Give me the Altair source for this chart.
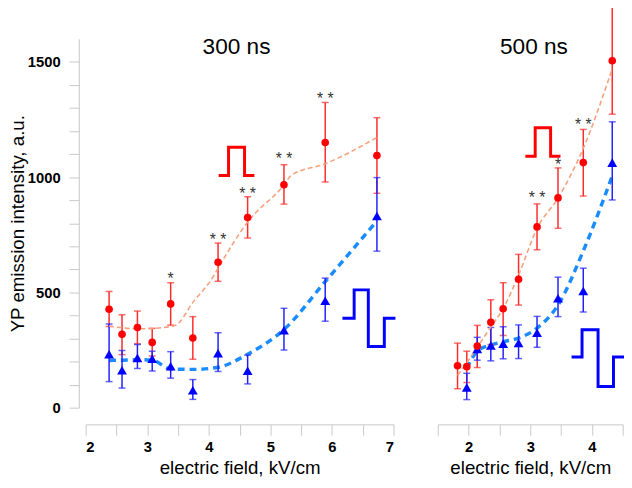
import altair as alt
import pandas as pd

# ---------------- 300 ns panel ----------------
field_300 = [2.38, 2.59, 2.84, 3.08, 3.38, 3.74, 4.15, 4.63, 5.22, 5.89, 6.73]
red_300 = [427, 318, 348, 283, 450, 302, 631, 825, 967, 1150, 1094]
red_300_hi = [504, 403, 419, 344, 542, 395, 714, 915, 1054, 1324, 1258]
red_300_lo = [352, 230, 277, 224, 358, 210, 548, 736, 883, 979, 930]
blue_300 = [232, 162, 216, 212, 180, 76, 236, 160, 336, 464, 831]
blue_300_hi = [363, 248, 274, 245, 243, 122, 325, 228, 431, 562, 998]
blue_300_lo = [113, 85, 170, 159, 128, 36, 157, 103, 250, 375, 679]

fit_red_300_x = [2.38, 2.6, 2.85, 3.1, 3.45, 3.75, 4.07, 4.15, 4.63, 5.22, 5.34, 5.89, 6.73]
fit_red_300_y = [354, 346, 342, 344, 356, 460, 568, 605, 805, 966, 1008, 1058, 1172]
fit_blue_300_x = [2.38, 2.6, 2.84, 3.08, 3.38, 3.74, 4.15, 4.63, 5.22, 5.89, 6.73]
fit_blue_300_y = [205, 206, 208, 206, 168, 166, 175, 232, 339, 547, 810]

star_300_x = [3.38, 4.15, 4.63, 5.22, 5.89]
star_300_y = [575, 746, 942, 1095, 1355]
star_300_t = ["*", "* *", "* *", "* *", "* *"]

# ---------------- 500 ns panel ----------------
field_500_red = [1.82, 1.97, 2.14, 2.36, 2.56, 2.81, 3.11, 3.45, 3.86, 4.33]
red_500 = [182, 178, 267, 370, 429, 557, 784, 910, 1063, 1505]
red_500_hi = [280, 245, 357, 468, 542, 665, 884, 1040, 1207, 1738]
red_500_lo = [82, 109, 174, 274, 313, 445, 685, 778, 918, 1273]
field_500_blue = [1.97, 2.14, 2.36, 2.56, 2.81, 3.11, 3.45, 3.86, 4.33]
blue_500 = [88, 255, 270, 277, 281, 325, 475, 506, 1063]
blue_500_hi = [149, 305, 348, 351, 359, 396, 566, 605, 1240]
blue_500_lo = [35, 206, 203, 212, 213, 262, 395, 415, 901]

fit_red_500_x = [1.82, 1.97, 2.14, 2.36, 2.56, 2.81, 3.11, 3.45, 3.86, 4.33]
fit_red_500_y = [140, 195, 262, 350, 430, 575, 778, 909, 1125, 1470]
fit_blue_500_x = [1.97, 2.14, 2.36, 2.56, 2.81, 3.11, 3.45, 3.86, 4.33]
fit_blue_500_y = [170, 245, 272, 286, 302, 345, 445, 680, 1005]

star_500_x = [3.11, 3.45, 3.86]
star_500_y = [928, 1069, 1242]
star_500_t = ["* *", "*", "* *"]

# ---------------- pulse icons ----------------
red_pulse_300_x = [4.16, 4.32, 4.32, 4.58, 4.58, 4.74]
red_pulse_300_y = [1007, 1007, 1130, 1130, 1007, 1007]
blue_pulse_300_x = [6.17, 6.36, 6.36, 6.59, 6.59, 6.85, 6.85, 7.03]
blue_pulse_300_y = [388, 388, 511, 511, 265, 265, 388, 388]
red_pulse_500_x = [2.92, 3.08, 3.08, 3.33, 3.33, 3.49]
red_pulse_500_y = [1091, 1091, 1214, 1214, 1091, 1091]
blue_pulse_500_x = [3.67, 3.84, 3.84, 4.10, 4.10, 4.35, 4.35, 4.55]
blue_pulse_500_y = [220, 220, 338, 338, 92, 92, 220, 220]

panel_titles = ["300 ns", "500 ns"]
title_x = [4.45, 3.06]
title_y = [1563, 1563]

FONT = "Liberation Sans"
GRAY = "#c8c8c8"
RED = "#ff0000"
RED_BAR = "#ff2a2a"
BLUE = "#0000ff"
BLUE_BAR = "#2020ff"


def x_axis(values):
    return alt.Axis(
        values=values,
        labelExpr="datum.value % 1 == 0 ? format(datum.value, 'd') : ''",
        title="electric field, kV/cm",
        grid=False,
        domainColor=GRAY,
        tickColor=GRAY,
        tickSize=11,
        offset=17,
        labelFont=FONT,
        labelFontWeight="bold",
        labelFontSize=15,
        labelColor="black",
        labelPadding=5,
        titleFont=FONT,
        titleFontSize=19,
        titleFontWeight="normal",
        titleColor="black",
        titlePadding=4,
    )


Y_AXIS = alt.Axis(
    values=list(range(0, 1501, 100)),
    labelExpr="datum.value % 500 == 0 ? format(datum.value, 'd') : ''",
    title="YP emission intensity, a.u.",
    grid=False,
    domainColor=GRAY,
    tickColor=GRAY,
    tickSize=10,
    offset=7,
    labelFont=FONT,
    labelFontWeight="bold",
    labelFontSize=15,
    labelColor="black",
    labelPadding=9,
    titleFont=FONT,
    titleFontSize=19,
    titleFontWeight="normal",
    titleColor="black",
    titlePadding=0,
)


def panel(xr, r, rhi, rlo, xb, b, bhi, blo, frx, fry, fbx, fby, sx, sy, st,
          tx, ty, ttxt, icons, xdom, xvals, width, yaxis):
    def X():
        return alt.X("x:Q", scale=alt.Scale(domain=xdom, nice=False, zero=False), axis=x_axis(xvals))

    def Y(f="y"):
        return alt.Y(f"{f}:Q", scale=alt.Scale(domain=[0, 1600], nice=False, zero=True), axis=yaxis)

    dred = pd.DataFrame({"x": xr, "y": r, "hi": rhi, "lo": rlo})
    dblue = pd.DataFrame({"x": xb, "y": b, "hi": bhi, "lo": blo})
    dfr = pd.DataFrame({"x": frx, "y": fry})
    dfb = pd.DataFrame({"x": fbx, "y": fby})
    dst = pd.DataFrame({"x": sx, "y": sy, "t": st})
    dti = pd.DataFrame({"x": [tx], "y": [ty], "t": [ttxt]})

    layers = []
    layers.append(alt.Chart(dfb).mark_line(color="#1a8cff", strokeWidth=3.5, strokeDash=[7, 5],
                                           interpolate="monotone").encode(X(), Y()))
    layers.append(alt.Chart(dred).mark_rule(color=RED_BAR, strokeWidth=1.5).encode(X(), Y("lo"), y2="hi:Q"))
    layers.append(alt.Chart(dred).mark_tick(color=RED_BAR, orient="horizontal", size=7, thickness=1.5)
                  .encode(X(), Y("hi")))
    layers.append(alt.Chart(dred).mark_tick(color=RED_BAR, orient="horizontal", size=7, thickness=1.5)
                  .encode(X(), Y("lo")))
    layers.append(alt.Chart(dblue).mark_rule(color=BLUE_BAR, strokeWidth=1.5).encode(X(), Y("lo"), y2="hi:Q"))
    layers.append(alt.Chart(dblue).mark_tick(color=BLUE_BAR, orient="horizontal", size=7, thickness=1.5)
                  .encode(X(), Y("hi")))
    layers.append(alt.Chart(dblue).mark_tick(color=BLUE_BAR, orient="horizontal", size=7, thickness=1.5)
                  .encode(X(), Y("lo")))
    layers.append(alt.Chart(dfr).mark_line(color="#f7a07c", strokeWidth=1.6, strokeDash=[5, 3],
                                           interpolate="monotone").encode(X(), Y()))
    layers.append(alt.Chart(dblue).mark_point(shape="triangle-up", filled=True, size=100, color=BLUE,
                                              opacity=1).encode(X(), Y()))
    layers.append(alt.Chart(dred).mark_point(shape="circle", filled=True, size=60, color=RED,
                                             opacity=1).encode(X(), Y()))
    layers.append(alt.Chart(dst).mark_text(font=FONT, fontSize=16, baseline="alphabetic", dy=9,
                                           color="#333333").encode(X(), Y(), text="t:N"))
    layers.append(alt.Chart(dti).mark_text(font=FONT, fontSize=23, baseline="middle",
                                           color="black").encode(X(), Y(), text="t:N"))
    for ix, iy, col in icons:
        d = pd.DataFrame({"x": ix, "y": iy, "i": list(range(len(ix)))})
        layers.append(alt.Chart(d).mark_line(color=col, strokeWidth=3, strokeJoin="miter",
                                             strokeCap="butt").encode(X(), Y(), order="i:Q"))
    return alt.layer(*layers).properties(width=width, height=375)


left = panel(field_300, red_300, red_300_hi, red_300_lo,
             field_300, blue_300, blue_300_hi, blue_300_lo,
             fit_red_300_x, fit_red_300_y, fit_blue_300_x, fit_blue_300_y,
             star_300_x, star_300_y, star_300_t,
             title_x[0], title_y[0], panel_titles[0],
             [(red_pulse_300_x, red_pulse_300_y, RED), (blue_pulse_300_x, blue_pulse_300_y, BLUE)],
             [2, 7], [2 + 0.5 * k for k in range(11)], 313, Y_AXIS)

right = panel(field_500_red, red_500, red_500_hi, red_500_lo,
              field_500_blue, blue_500, blue_500_hi, blue_500_lo,
              fit_red_500_x, fit_red_500_y, fit_blue_500_x, fit_blue_500_y,
              star_500_x, star_500_y, star_500_t,
              title_x[1], title_y[1], panel_titles[1],
              [(red_pulse_500_x, red_pulse_500_y, RED), (blue_pulse_500_x, blue_pulse_500_y, BLUE)],
              [1.5, 4.5], [1.5 + 0.5 * k for k in range(7)], 188, None)

chart = (alt.hconcat(left, right, spacing=36)
         .properties(padding={"top": -6.6, "left": 0, "right": -8.7, "bottom": -1},
                     background="white")
         .configure_view(stroke=None))

chart.save("out.html", embed_options={"renderer": "svg", "actions": False})
